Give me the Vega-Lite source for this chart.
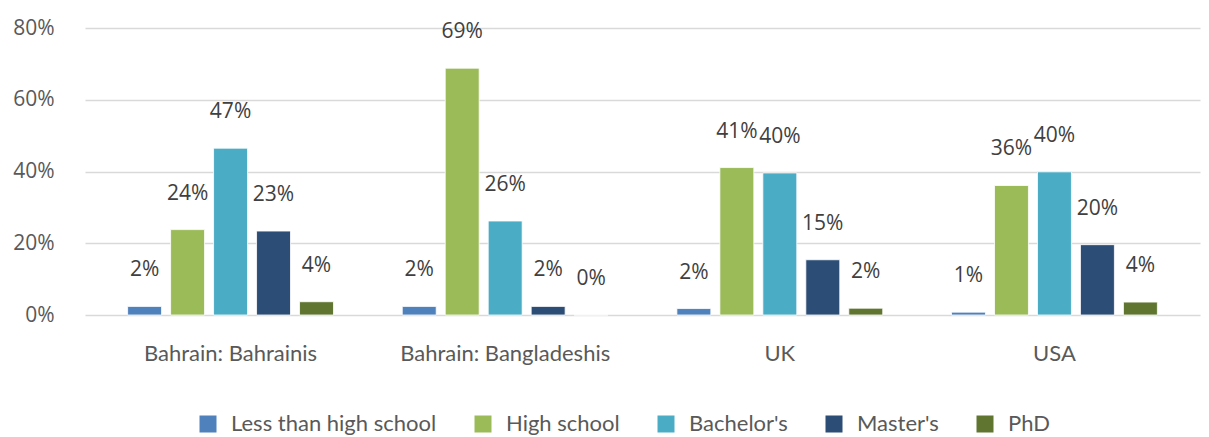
{
  "$schema": "https://vega.github.io/schema/vega-lite/v6.json",
  "width": 1115,
  "height": 287,
  "autosize": {"type": "none"},
  "padding": {"left": 85, "top": 28, "right": 9, "bottom": 122},
  "background": "white",
  "data": {"values": [
    {"group": "Bahrain: Bahrainis", "level": "Less than high school", "value": 0.024},
    {"group": "Bahrain: Bahrainis", "level": "High school", "value": 0.238},
    {"group": "Bahrain: Bahrainis", "level": "Bachelor's", "value": 0.465},
    {"group": "Bahrain: Bahrainis", "level": "Master's", "value": 0.234},
    {"group": "Bahrain: Bahrainis", "level": "PhD", "value": 0.037},
    {"group": "Bahrain: Bangladeshis", "level": "Less than high school", "value": 0.024},
    {"group": "Bahrain: Bangladeshis", "level": "High school", "value": 0.688},
    {"group": "Bahrain: Bangladeshis", "level": "Bachelor's", "value": 0.262},
    {"group": "Bahrain: Bangladeshis", "level": "Master's", "value": 0.024},
    {"group": "Bahrain: Bangladeshis", "level": "PhD", "value": 0.0},
    {"group": "UK", "level": "Less than high school", "value": 0.018},
    {"group": "UK", "level": "High school", "value": 0.411},
    {"group": "UK", "level": "Bachelor's", "value": 0.396},
    {"group": "UK", "level": "Master's", "value": 0.154},
    {"group": "UK", "level": "PhD", "value": 0.019},
    {"group": "USA", "level": "Less than high school", "value": 0.008},
    {"group": "USA", "level": "High school", "value": 0.361},
    {"group": "USA", "level": "Bachelor's", "value": 0.399},
    {"group": "USA", "level": "Master's", "value": 0.196},
    {"group": "USA", "level": "PhD", "value": 0.036}
  ]},
  "encoding": {
    "x": {
      "field": "group", "type": "nominal", "sort": null,
      "scale": {"paddingInner": 0, "paddingOuter": 0.03},
      "axis": {"title": null, "labelAngle": 0, "domain": false, "ticks": false, "labelPadding": 28,
               "labelLimit": 0,
               "labelFont": "Lato", "labelFontSize": 22, "labelColor": "#595959"}
    },
    "xOffset": {
      "field": "level", "type": "nominal",
      "sort": ["Less than high school", "High school", "Bachelor's", "Master's", "PhD"],
      "scale": {"paddingInner": 0.21, "paddingOuter": 0.8}
    },
    "y": {
      "field": "value", "type": "quantitative",
      "scale": {"domain": [0, 0.8]},
      "axis": {"title": null, "format": ".0%", "values": [0, 0.2, 0.4, 0.6, 0.8],
               "labelOverlap": false,
               "domain": false, "ticks": false, "labelPadding": 31,
               "labelFont": "Open Sans", "labelFontSize": 21, "labelColor": "#595959",
               "gridColor": "#d9d9d9", "gridWidth": 1.5}
    }
  },
  "layer": [
    {
      "mark": {"type": "bar", "stroke": "white", "strokeWidth": 0.8},
      "encoding": {
        "color": {
          "field": "level", "type": "nominal",
          "sort": ["Less than high school", "High school", "Bachelor's", "Master's", "PhD"],
          "scale": {"domain": ["Less than high school", "High school", "Bachelor's", "Master's", "PhD"],
                    "range": ["#4f81bd", "#9bbb59", "#4bacc6", "#2c4d75", "#5f7530"]},
          "legend": {"title": null, "orient": "none", "legendX": 112, "legendY": 385,
                     "direction": "horizontal",
                     "symbolType": "square", "symbolSize": 289, "symbolStrokeWidth": 0,
                     "labelFont": "Lato", "labelFontSize": 22, "labelColor": "#595959",
                     "labelLimit": 0, "labelOffset": 12, "columnPadding": 35}
        }
      }
    },
    {
      "mark": {"type": "text", "dy": -36, "font": "Open Sans", "fontSize": 21, "color": "#404040"},
      "encoding": {
        "text": {"field": "value", "type": "quantitative", "format": ".0%"}
      }
    }
  ],
  "config": {"view": {"stroke": null}}
}
